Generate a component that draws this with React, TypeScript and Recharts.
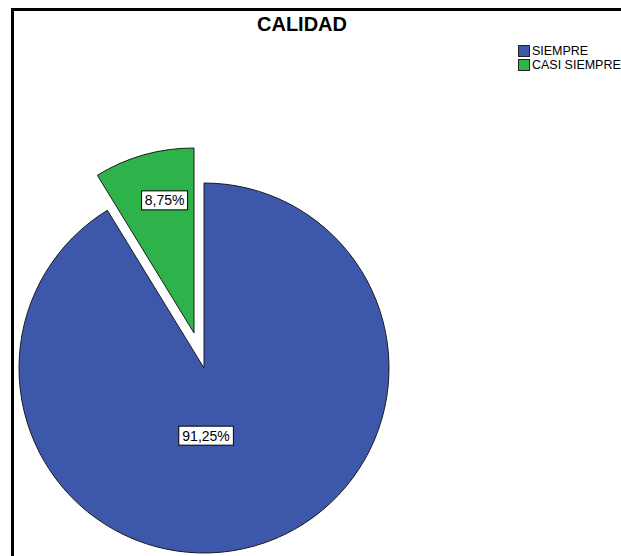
import React from 'react';
import { PieChart, Pie, Cell, Legend } from 'recharts';

const categories = ['SIEMPRE', 'CASI SIEMPRE'];
const percentages = [91.25, 8.75];
const percentLabels = ['91,25%', '8,75%'];
const colors = ['#3D57AB', '#2DB34A'];

const data = categories.map((name, i) => ({ name, value: percentages[i] }));

const RAD = Math.PI / 180;
const FONT = '"Liberation Sans", Arial, sans-serif';

const PIE_CX = 204;
const PIE_CY = 368;
const EXPLODE_CX = 194;
const EXPLODE_CY = 333;
const RADIUS = 185;

function makeLabel(visibleIndex: number, factor: number, fcx: number, fcy: number, shiftX: number) {
  return (props: any) => {
    const { midAngle, index } = props;
    if (index !== visibleIndex) return null;
    const cx = typeof props.cx === 'number' ? props.cx : fcx;
    const cy = typeof props.cy === 'number' ? props.cy : fcy;
    const outer = typeof props.outerRadius === 'number' ? props.outerRadius : RADIUS;
    const r = outer * factor;
    const x = cx + r * Math.cos(-midAngle * RAD) + shiftX;
    const y = cy + r * Math.sin(-midAngle * RAD);
    const text = percentLabels[index];
    const w = text.length * 8.6 + 3;
    const h = 19;
    return (
      <g>
        <rect x={x - w / 2} y={y - h / 2} width={w} height={h} fill="#ffffff" stroke="#000000" strokeWidth={1} />
        <text x={x} y={y} dy={5} textAnchor="middle" fontSize={14} fill="#000000" fontFamily={FONT}>
          {text}
        </text>
      </g>
    );
  };
}

const renderLegend = () => (
  <div style={{ fontFamily: FONT, fontSize: 13, color: '#000', lineHeight: '14px' }}>
    {categories.map((c, i) => (
      <div key={c} style={{ display: 'flex', alignItems: 'center', height: 14, whiteSpace: 'nowrap' }}>
        <span
          style={{
            display: 'inline-block',
            width: 10,
            height: 10,
            background: colors[i],
            border: '1px solid #222',
            marginRight: 2,
          }}
        />
        <span style={{ display: 'inline-block', transform: 'scaleX(0.96)', transformOrigin: 'left center' }}>{c}</span>
      </div>
    ))}
  </div>
);

export default function App() {
  return (
    <div style={{ position: 'absolute', left: 0, top: 0, width: 621, height: 556, overflow: 'hidden', background: '#fff' }}>
      <div
        style={{
          position: 'absolute',
          left: 11,
          top: 8,
          width: 640,
          height: 600,
          borderLeft: '3px solid #000',
          borderTop: '3px solid #000',
        }}
      />
      <div
        style={{
          position: 'absolute',
          left: 202,
          top: 12,
          width: 200,
          textAlign: 'center',
          fontFamily: FONT,
          fontWeight: 'bold',
          fontSize: 20,
          lineHeight: '24px',
          color: '#000',
        }}
      >
        CALIDAD
      </div>
      <div style={{ position: 'absolute', left: 0, top: 0 }}>
        <PieChart width={621} height={556} margin={{ top: 0, right: 0, bottom: 0, left: 0 }}>
          <Pie
            data={data}
            dataKey="value"
            nameKey="name"
            cx={PIE_CX}
            cy={PIE_CY}
            outerRadius={RADIUS}
            startAngle={90}
            endAngle={-270}
            isAnimationActive={false}
            labelLine={false}
            label={makeLabel(0, 0.38, PIE_CX, PIE_CY, -17)}
          >
            {data.map((d, i) => (
              <Cell
                key={d.name}
                fill={i === 0 ? colors[i] : 'none'}
                stroke={i === 0 ? '#1c1c1c' : 'none'}
                strokeWidth={1}
              />
            ))}
          </Pie>
          <Pie
            data={data}
            dataKey="value"
            nameKey="name"
            cx={EXPLODE_CX}
            cy={EXPLODE_CY}
            outerRadius={RADIUS}
            startAngle={90}
            endAngle={-270}
            isAnimationActive={false}
            labelLine={false}
            label={makeLabel(1, 0.745, EXPLODE_CX, EXPLODE_CY, 8)}
          >
            {data.map((d, i) => (
              <Cell
                key={d.name}
                fill={i === 1 ? colors[i] : 'none'}
                stroke={i === 1 ? '#1c1c1c' : 'none'}
                strokeWidth={1}
              />
            ))}
          </Pie>
          <Legend
            content={renderLegend}
            layout="vertical"
            verticalAlign="top"
            align="right"
            wrapperStyle={{ left: 518, top: 44, width: 120 }}
          />
        </PieChart>
      </div>
    </div>
  );
}
